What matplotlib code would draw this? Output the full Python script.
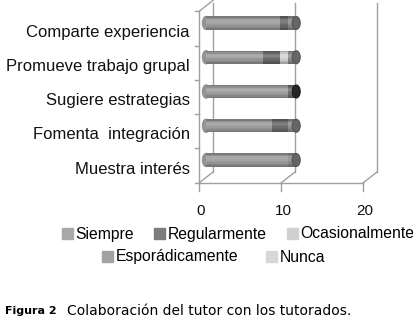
import numpy as np
import matplotlib
matplotlib.use("Agg")
import matplotlib.pyplot as plt
from matplotlib.patches import Ellipse, Patch
from matplotlib.transforms import ScaledTranslation
from matplotlib.colors import to_rgb

# --- data (top to bottom) ---
categories = ["Comparte experiencia", "Promueve trabajo grupal",
              "Sugiere estrategias", "Fomenta  integración", "Muestra interés"]
series = ["Siempre", "Regularmente", "Ocasionalmente", "Esporádicamente", "Nunca"]
siempre = [9, 7, 10, 8, 10]
regularmente = [1, 2, 1, 2, 0]
ocasionalmente = [0, 1, 0, 0, 0]
esporadicamente = [1, 1, 0, 1, 1]
nunca = [0, 0, 0, 0, 0]
xticks = [0, 10, 20]

body_colors = ["#9c9c9c", "#6c6c6c", "#d4d4d4", "#8e8e8e", "#dadada"]
legend_colors = ["#a8a8a8", "#7c7c7c", "#d0d0d0", "#a2a2a2", "#d8d8d8"]

DPI = 100
W, H = 414, 324
fig = plt.figure(figsize=(W / DPI, H / DPI), dpi=DPI)

# pixel geometry of the plot area
px_unit = 8.2          # pixels per x unit (middle depth)
x0_px = 206            # data x = 0 at middle depth
left_px, right_px = 199, 380
bar_top_px, bar_step = 23, 34.25
top_px, bottom_px = 2, 192
dpx, dpy = 7, 5.5      # half depth offset in pixels

xmin = (left_px - x0_px) / px_unit
xmax = (right_px - x0_px) / px_unit
ymin = (top_px - bar_top_px) / bar_step
ymax = (bottom_px - bar_top_px) / bar_step

ax = fig.add_axes([left_px / W, 1 - bottom_px / H,
                   (right_px - left_px) / W, (bottom_px - top_px) / H])
ax.set_xlim(xmin, xmax)
ax.set_ylim(ymax, ymin)
for s in ax.spines.values():
    s.set_visible(False)

ux = lambda p: p / px_unit      # pixels -> x data
uy = lambda p: p / bar_step     # pixels -> y data (down positive)

line_kw = dict(color="#a0a0a0", lw=1.0, clip_on=False, zorder=1)
n = len(categories)
front_y = (183 - bar_top_px) / bar_step
back_y = front_y - uy(2 * dpy)
top_back = (3 - bar_top_px) / bar_step

# front x axis, ticks, depth diagonals, back wall
ax.plot([xticks[0] - ux(dpx), xticks[-1] - ux(dpx)], [front_y, front_y], **line_kw)
for t in xticks:
    ax.plot([t - ux(dpx)] * 2, [front_y, front_y + uy(8)], **line_kw)
    ax.plot([t - ux(dpx), t + ux(dpx)], [front_y, back_y], **line_kw)
    ax.plot([t + ux(dpx)] * 2, [back_y, top_back], **line_kw)

# left wall
left_top = (-0.5) + uy(dpy)
ax.plot([-ux(dpx)] * 2, [front_y, left_top], **line_kw)
ax.plot([-ux(dpx), ux(dpx)], [left_top, left_top - uy(2 * dpy)], **line_kw)
for b in np.arange(-0.5, n, 1.0):
    yb = b + uy(dpy)
    ax.plot([-ux(dpx), -ux(dpx) - ux(4)], [yb, yb], **line_kw)


def shade(c, f):
    c = np.array(to_rgb(c))
    if f >= 1:
        return tuple(c + (1 - c) * (f - 1))
    return tuple(c * f)


profile = [0.78, 0.92, 1.10, 1.16, 1.08, 1.0, 0.94, 0.86, 0.76]
bh = uy(13)
data = [siempre, regularmente, ocasionalmente, esporadicamente, nunca]
ypos = np.arange(n)
strip_h = bh / len(profile)

for i in range(n):
    left = 0.0
    # rounded start
    ax.add_patch(Ellipse((0, ypos[i]), ux(7), bh, color=shade(body_colors[0], 0.95), zorder=2))
    last = None
    for k, vals in enumerate(data):
        v = vals[i]
        if v == 0:
            continue
        for j, f in enumerate(profile):
            yc = ypos[i] - bh / 2 + strip_h * (j + 0.5)
            ax.barh(yc, v, left=left, height=strip_h * 1.02,
                    color=shade(body_colors[k], f), lw=0, zorder=3)
        left += v
        last = k
    cap = shade(body_colors[last], 0.72 if last != 1 else 0.35)
    ax.add_patch(Ellipse((left, ypos[i]), ux(8), bh, facecolor=cap,
                         edgecolor=shade(body_colors[last], 0.6 if last != 1 else 0.25),
                         lw=0.8, zorder=4))

# tick labels
font = "Liberation Sans"
ax.set_yticks(ypos)
ax.set_yticklabels(categories, fontsize=12, family=font, color="#111111")
ax.tick_params(axis="y", length=0, pad=6.5)
for lab in ax.get_yticklabels():
    lab.set_transform(lab.get_transform() + ScaledTranslation(0, -7.5 / DPI, fig.dpi_scale_trans))
ax.set_xticks(xticks)
ax.set_xticklabels([str(t) for t in xticks], fontsize=11, family=font, color="#111111")
ax.tick_params(axis="x", length=0, pad=8.5)
for lab in ax.get_xticklabels():
    lab.set_transform(lab.get_transform() + ScaledTranslation(-(dpx - 2) / DPI, 0, fig.dpi_scale_trans))

# legend in two rows
handles = [Patch(color=c) for c in legend_colors]
leg_kw = dict(frameon=False, handlelength=0.7, handleheight=0.7,
              handletextpad=0.15, borderpad=0, borderaxespad=0,
              loc="center left", prop={"family": font, "size": 11.3})
fig.legend(handles[:3], series[:3], ncol=3, columnspacing=1.3,
           bbox_to_anchor=(62 / W, 1 - 234 / H), **leg_kw)
fig.legend(handles[3:], series[3:], ncol=2, columnspacing=1.8,
           bbox_to_anchor=(102 / W, 1 - 257 / H), **leg_kw)

# caption
fig.text(5 / W, 1 - 311 / H, "Figura 2", fontsize=8, fontweight="bold",
         family="DejaVu Sans", va="center")
fig.text(67 / W, 1 - 311 / H, "Colaboración del tutor con los tutorados.",
         fontsize=10, family="DejaVu Sans", va="center")

fig.savefig("out.png", dpi=DPI)
